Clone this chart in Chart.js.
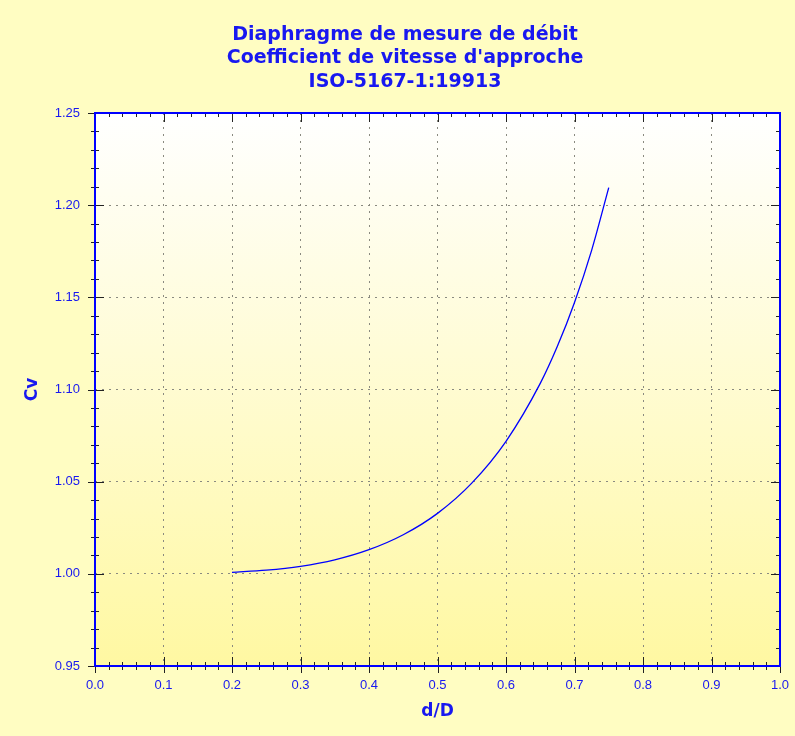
<!DOCTYPE html>
<html lang="fr">
<head>
<meta charset="UTF-8">
<title>Diaphragme - Coefficient de vitesse d'approche</title>
<script src="https://cdn.jsdelivr.net/npm/chart.js@4.4.1/dist/chart.umd.min.js"></script>
</head>
<body style="margin:0; background:#FFFDC2;">
<div style="width:795px; height:736px;">
  <canvas id="cvChart" width="795" height="736"></canvas>
</div>
<script>
// rapport des diametres d/D
const beta = [0.20, 0.25, 0.30, 0.35, 0.40, 0.45, 0.50, 0.55, 0.60, 0.65, 0.675, 0.70, 0.725, 0.75];
// coefficient de vitesse d'approche
const cv = [1.0008, 1.0020, 1.0041, 1.0076, 1.0131, 1.0212, 1.0328, 1.0492, 1.0719, 1.1033, 1.1234, 1.1472, 1.1755, 1.2095];

const titleLines = ['Diaphragme de mesure de débit', "Coefficient de vitesse d'approche", 'ISO-5167-1:19913'];
const xLabel = 'd/D';
const yLabel = 'Cv';

const BLUE = '#1818F0';
const BOLD = '"DejaVu Sans", Verdana, sans-serif';
const TICK = 'Arial, "Liberation Sans", sans-serif';

// fond, titre, cadre et petites graduations
const decor = {
    id: 'decor',
    beforeDraw(chart) {
        const ctx = chart.ctx;
        const a = chart.chartArea;
        ctx.save();
        ctx.fillStyle = '#FFFDC2';
        ctx.fillRect(0, 0, chart.width, chart.height);
        const g = ctx.createLinearGradient(0, a.top, 0, a.bottom);
        g.addColorStop(0, '#FFFFFF');
        g.addColorStop(1, '#FFF8A2');
        ctx.fillStyle = g;
        ctx.fillRect(a.left, a.top, a.right - a.left, a.bottom - a.top);
        ctx.fillStyle = BLUE;
        ctx.font = 'bold 19px ' + BOLD;
        ctx.textAlign = 'center';
        ctx.textBaseline = 'middle';
        titleLines.forEach((t, i) => ctx.fillText(t, 405, 35 + i * 23.5));
        ctx.restore();
    },
    afterDraw(chart) {
        const ctx = chart.ctx;
        const a = chart.chartArea;
        const xs = chart.scales.x;
        const ys = chart.scales.y;
        ctx.save();
        ctx.strokeStyle = '#222';
        ctx.lineWidth = 1;
        ctx.beginPath();
        for (let i = 0; i <= 50; i++) {
            const px = Math.round(xs.getPixelForValue(i / 50)) + 0.5;
            const major = i % 5 === 0;
            const inn = major ? 9 : 4, out = major ? 7 : 4;
            ctx.moveTo(px, a.bottom - inn); ctx.lineTo(px, a.bottom + out);
            ctx.moveTo(px, a.top); ctx.lineTo(px, a.top + inn);
        }
        for (let i = 0; i <= 30; i++) {
            const py = Math.round(ys.getPixelForValue(0.95 + i / 100)) + 0.5;
            const major = i % 5 === 0;
            const inn = major ? 9 : 4, out = major ? 7 : 4;
            ctx.moveTo(a.left - out, py); ctx.lineTo(a.left + inn, py);
            ctx.moveTo(a.right - inn, py); ctx.lineTo(a.right, py);
        }
        ctx.stroke();
        ctx.strokeStyle = '#0000FF';
        ctx.lineWidth = 2;
        ctx.strokeRect(a.left, a.top, a.right - a.left, a.bottom - a.top);
        ctx.restore();
    }
};

new Chart(document.getElementById('cvChart'), {
    type: 'line',
    data: {
        datasets: [{
            data: beta.map((b, i) => ({ x: b, y: cv[i] })),
            borderColor: '#0000FF',
            borderWidth: 1.3,
            pointRadius: 0,
            cubicInterpolationMode: 'monotone',
            fill: false
        }]
    },
    options: {
        responsive: false,
        animation: false,
        layout: { padding: { left: 0, right: 15, top: 113, bottom: 0 } },
        plugins: {
            legend: { display: false },
            tooltip: { enabled: false },
            title: { display: false }
        },
        scales: {
            x: {
                type: 'linear',
                min: 0, max: 1,
                afterFit(s) { s.height = 70; s.paddingLeft = 0; s.paddingRight = 0; },
                ticks: {
                    stepSize: 0.1,
                    color: BLUE,
                    padding: 12,
                    font: { family: TICK, size: 13 },
                    callback: v => v.toFixed(1)
                },
                grid: { color: '#8A8A80', lineWidth: 1, drawTicks: false },
                border: { display: false, dash: [2, 5] },
                title: {
                    display: true, text: xLabel, color: BLUE,
                    font: { family: BOLD, size: 17, weight: 'bold' },
                    padding: { bottom: 14 }
                }
            },
            y: {
                type: 'linear',
                min: 0.95, max: 1.25,
                afterFit(s) { s.width = 95; s.paddingTop = 0; s.paddingBottom = 0; },
                ticks: {
                    stepSize: 0.05,
                    color: BLUE,
                    padding: 15,
                    font: { family: TICK, size: 13 },
                    callback: v => v.toFixed(2)
                },
                grid: { color: '#8A8A80', lineWidth: 1, drawTicks: false },
                border: { display: false, dash: [2, 5] },
                title: {
                    display: true, text: yLabel, color: BLUE,
                    font: { family: BOLD, size: 17, weight: 'bold' },
                    padding: { top: 22 }
                }
            }
        }
    },
    plugins: [decor]
});
</script>
</body>
</html>
